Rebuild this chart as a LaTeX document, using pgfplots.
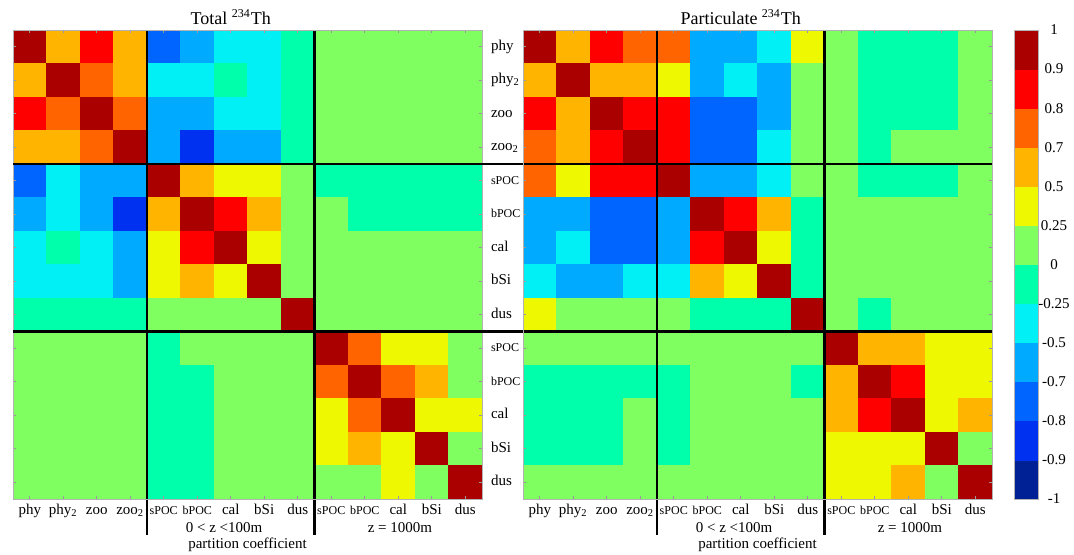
\documentclass[border=0pt]{standalone}
\usepackage{pgfplots}
\pgfplotsset{compat=1.18}
\usepackage{fontspec}
\setmainfont{Liberation Serif}

% 1 px of the reference = 0.5pt
\newcommand{\sm}[1]{{\fontsize{6}{7}\selectfont #1}}
\newcommand{\lab}{\fontsize{7.5}{9}\selectfont}

\tikzset{sep/.style={line width=1.3pt, black}}

% colour classes: 0=-1..-0.9, 1=-0.9..-0.8, ..., 11=0.9..1
\pgfplotsset{
  corrmap/.style={
    colormap={corr}{rgb255=(0,32,150) rgb255=(0,48,240) rgb255=(0,100,255)
      rgb255=(0,170,255) rgb255=(0,240,245) rgb255=(0,255,170)
      rgb255=(128,255,96) rgb255=(238,248,0) rgb255=(255,180,0)
      rgb255=(255,100,0) rgb255=(255,0,0) rgb255=(170,0,0)},
    point meta min=0, point meta max=11,
  },
  corrmat/.style={
    corrmap,
    scale only axis, width=234.5pt, height=234.5pt,
    xmin=-0.5, xmax=13.5, ymin=-0.5, ymax=13.5, y dir=reverse,
    enlargelimits=false, clip=false, axis on top,
    xtick={0,...,13}, ytick={0,...,13},
    tick pos=both, tick align=inside, major tick length=1.6pt,
    tick style={gray!80, thin}, axis line style={gray!60, thin},
    xticklabels={phy, phy\textsubscript{2}, zoo, zoo\textsubscript{2}, \sm{sPOC}, \sm{bPOC}, cal, bSi, dus,
      \sm{sPOC}, \sm{bPOC}, cal, bSi, dus},
    xticklabel style={font=\lab, anchor=base, yshift=-7.5pt},
  },
}

\begin{document}
\begin{tikzpicture}
\path[use as bounding box] (0,0) rectangle (537pt,277pt);

% ---- Total 234Th ----
\begin{axis}[corrmat, at={(6.5pt,27.5pt)}, anchor=south west,
  yticklabel pos=right,
  yticklabels={phy, phy\textsubscript{2}, zoo, zoo\textsubscript{2}, \sm{sPOC}, \sm{bPOC}, cal, bSi, dus,
    \sm{sPOC}, \sm{bPOC}, cal, bSi, dus},
  yticklabel style={font=\lab, anchor=west, text height=5.5pt, text depth=2pt, xshift=1pt},
]
\addplot[matrix plot*, mesh/cols=14, point meta=explicit] coordinates {
(0,0)[11] (1,0)[8] (2,0)[10] (3,0)[8] (4,0)[2] (5,0)[3] (6,0)[4] (7,0)[4] (8,0)[5] (9,0)[6] (10,0)[6] (11,0)[6] (12,0)[6] (13,0)[6]
(0,1)[8] (1,1)[11] (2,1)[9] (3,1)[8] (4,1)[4] (5,1)[4] (6,1)[5] (7,1)[4] (8,1)[5] (9,1)[6] (10,1)[6] (11,1)[6] (12,1)[6] (13,1)[6]
(0,2)[10] (1,2)[9] (2,2)[11] (3,2)[9] (4,2)[3] (5,2)[3] (6,2)[4] (7,2)[4] (8,2)[5] (9,2)[6] (10,2)[6] (11,2)[6] (12,2)[6] (13,2)[6]
(0,3)[8] (1,3)[8] (2,3)[9] (3,3)[11] (4,3)[3] (5,3)[1] (6,3)[3] (7,3)[3] (8,3)[5] (9,3)[6] (10,3)[6] (11,3)[6] (12,3)[6] (13,3)[6]
(0,4)[2] (1,4)[4] (2,4)[3] (3,4)[3] (4,4)[11] (5,4)[8] (6,4)[7] (7,4)[7] (8,4)[6] (9,4)[5] (10,4)[5] (11,4)[5] (12,4)[5] (13,4)[5]
(0,5)[3] (1,5)[4] (2,5)[3] (3,5)[1] (4,5)[8] (5,5)[11] (6,5)[10] (7,5)[8] (8,5)[6] (9,5)[6] (10,5)[5] (11,5)[5] (12,5)[5] (13,5)[5]
(0,6)[4] (1,6)[5] (2,6)[4] (3,6)[3] (4,6)[7] (5,6)[10] (6,6)[11] (7,6)[7] (8,6)[6] (9,6)[6] (10,6)[6] (11,6)[6] (12,6)[6] (13,6)[6]
(0,7)[4] (1,7)[4] (2,7)[4] (3,7)[3] (4,7)[7] (5,7)[8] (6,7)[7] (7,7)[11] (8,7)[6] (9,7)[6] (10,7)[6] (11,7)[6] (12,7)[6] (13,7)[6]
(0,8)[5] (1,8)[5] (2,8)[5] (3,8)[5] (4,8)[6] (5,8)[6] (6,8)[6] (7,8)[6] (8,8)[11] (9,8)[6] (10,8)[6] (11,8)[6] (12,8)[6] (13,8)[6]
(0,9)[6] (1,9)[6] (2,9)[6] (3,9)[6] (4,9)[5] (5,9)[6] (6,9)[6] (7,9)[6] (8,9)[6] (9,9)[11] (10,9)[9] (11,9)[7] (12,9)[7] (13,9)[6]
(0,10)[6] (1,10)[6] (2,10)[6] (3,10)[6] (4,10)[5] (5,10)[5] (6,10)[6] (7,10)[6] (8,10)[6] (9,10)[9] (10,10)[11] (11,10)[9] (12,10)[8] (13,10)[6]
(0,11)[6] (1,11)[6] (2,11)[6] (3,11)[6] (4,11)[5] (5,11)[5] (6,11)[6] (7,11)[6] (8,11)[6] (9,11)[7] (10,11)[9] (11,11)[11] (12,11)[7] (13,11)[7]
(0,12)[6] (1,12)[6] (2,12)[6] (3,12)[6] (4,12)[5] (5,12)[5] (6,12)[6] (7,12)[6] (8,12)[6] (9,12)[7] (10,12)[8] (11,12)[7] (12,12)[11] (13,12)[6]
(0,13)[6] (1,13)[6] (2,13)[6] (3,13)[6] (4,13)[5] (5,13)[5] (6,13)[6] (7,13)[6] (8,13)[6] (9,13)[6] (10,13)[6] (11,13)[7] (12,13)[6] (13,13)[11]
};
\draw[sep] (axis cs:3.5,-0.5) -- (axis cs:3.5,14.57);
\draw[sep] (axis cs:8.5,-0.5) -- (axis cs:8.5,14.57);
\node[font=\fontsize{9}{10}\selectfont, anchor=base] at (axis cs:6,-0.65) {Total \textsuperscript{234}Th};
\node[font=\lab, anchor=base] at (axis cs:5.8,14.49) {0 < z <100m};
\node[font=\lab, anchor=base] at (axis cs:6.5,14.99) {partition coefficient};
\node[font=\lab, anchor=base] at (axis cs:11.05,14.49) {z = 1000m};
\end{axis}

% ---- Particulate 234Th ----
\begin{axis}[corrmat, at={(261.5pt,27.5pt)}, anchor=south west,
  yticklabels={},
]
\addplot[matrix plot*, mesh/cols=14, point meta=explicit] coordinates {
(0,0)[11] (1,0)[8] (2,0)[10] (3,0)[9] (4,0)[9] (5,0)[3] (6,0)[3] (7,0)[4] (8,0)[7] (9,0)[6] (10,0)[5] (11,0)[5] (12,0)[5] (13,0)[6]
(0,1)[8] (1,1)[11] (2,1)[8] (3,1)[8] (4,1)[7] (5,1)[3] (6,1)[4] (7,1)[3] (8,1)[6] (9,1)[6] (10,1)[5] (11,1)[5] (12,1)[5] (13,1)[6]
(0,2)[10] (1,2)[8] (2,2)[11] (3,2)[10] (4,2)[10] (5,2)[2] (6,2)[2] (7,2)[3] (8,2)[6] (9,2)[6] (10,2)[5] (11,2)[5] (12,2)[5] (13,2)[6]
(0,3)[9] (1,3)[8] (2,3)[10] (3,3)[11] (4,3)[10] (5,3)[2] (6,3)[2] (7,3)[4] (8,3)[6] (9,3)[6] (10,3)[5] (11,3)[6] (12,3)[6] (13,3)[6]
(0,4)[9] (1,4)[7] (2,4)[10] (3,4)[10] (4,4)[11] (5,4)[3] (6,4)[3] (7,4)[4] (8,4)[6] (9,4)[6] (10,4)[5] (11,4)[5] (12,4)[5] (13,4)[6]
(0,5)[3] (1,5)[3] (2,5)[2] (3,5)[2] (4,5)[3] (5,5)[11] (6,5)[10] (7,5)[8] (8,5)[5] (9,5)[6] (10,5)[6] (11,5)[6] (12,5)[6] (13,5)[6]
(0,6)[3] (1,6)[4] (2,6)[2] (3,6)[2] (4,6)[3] (5,6)[10] (6,6)[11] (7,6)[7] (8,6)[5] (9,6)[6] (10,6)[6] (11,6)[6] (12,6)[6] (13,6)[6]
(0,7)[4] (1,7)[3] (2,7)[3] (3,7)[4] (4,7)[4] (5,7)[8] (6,7)[7] (7,7)[11] (8,7)[5] (9,7)[6] (10,7)[6] (11,7)[6] (12,7)[6] (13,7)[6]
(0,8)[7] (1,8)[6] (2,8)[6] (3,8)[6] (4,8)[6] (5,8)[5] (6,8)[5] (7,8)[5] (8,8)[11] (9,8)[6] (10,8)[5] (11,8)[6] (12,8)[6] (13,8)[6]
(0,9)[6] (1,9)[6] (2,9)[6] (3,9)[6] (4,9)[6] (5,9)[6] (6,9)[6] (7,9)[6] (8,9)[6] (9,9)[11] (10,9)[8] (11,9)[8] (12,9)[7] (13,9)[7]
(0,10)[5] (1,10)[5] (2,10)[5] (3,10)[5] (4,10)[5] (5,10)[6] (6,10)[6] (7,10)[6] (8,10)[5] (9,10)[8] (10,10)[11] (11,10)[10] (12,10)[7] (13,10)[7]
(0,11)[5] (1,11)[5] (2,11)[5] (3,11)[6] (4,11)[5] (5,11)[6] (6,11)[6] (7,11)[6] (8,11)[6] (9,11)[8] (10,11)[10] (11,11)[11] (12,11)[7] (13,11)[8]
(0,12)[5] (1,12)[5] (2,12)[5] (3,12)[6] (4,12)[5] (5,12)[6] (6,12)[6] (7,12)[6] (8,12)[6] (9,12)[7] (10,12)[7] (11,12)[7] (12,12)[11] (13,12)[6]
(0,13)[6] (1,13)[6] (2,13)[6] (3,13)[6] (4,13)[6] (5,13)[6] (6,13)[6] (7,13)[6] (8,13)[6] (9,13)[7] (10,13)[7] (11,13)[8] (12,13)[6] (13,13)[11]
};
\draw[sep] (axis cs:3.5,-0.5) -- (axis cs:3.5,14.57);
\draw[sep] (axis cs:8.5,-0.5) -- (axis cs:8.5,14.57);
\draw[sep] (axis cs:-15.72,3.5) -- (axis cs:13.5,3.5);
\draw[sep] (axis cs:-15.72,8.5) -- (axis cs:13.5,8.5);
\node[font=\fontsize{9}{10}\selectfont, anchor=base] at (axis cs:6,-0.65) {Particulate \textsuperscript{234}Th};
\node[font=\lab, anchor=base] at (axis cs:5.8,14.49) {0 < z <100m};
\node[font=\lab, anchor=base] at (axis cs:6.5,14.99) {partition coefficient};
\node[font=\lab, anchor=base] at (axis cs:11.05,14.49) {z = 1000m};
\end{axis}

% ---- colour bar ----
\begin{axis}[corrmap, at={(507pt,27.5pt)}, anchor=south west,
  scale only axis, width=12pt, height=234.5pt,
  xmin=-0.5, xmax=1.5, ymin=-0.5, ymax=11.5, enlargelimits=false,
  axis on top, xtick=\empty,
  ytick={-0.5,0.5,...,11.5},
  yticklabels={-1,-0.9,-0.8,-0.7,-0.5,-0.25,0,0.25,0.5,0.7,0.8,0.9,1},
  ytick pos=right, yticklabel pos=right, major tick length=0pt,
  yticklabel style={font=\lab, anchor=center, xshift=8pt},
  axis line style={gray!60, thin},
]
\addplot[matrix plot*, mesh/cols=2, point meta=explicit] coordinates {
(0,0)[0] (1,0)[0]
(0,1)[1] (1,1)[1]
(0,2)[2] (1,2)[2]
(0,3)[3] (1,3)[3]
(0,4)[4] (1,4)[4]
(0,5)[5] (1,5)[5]
(0,6)[6] (1,6)[6]
(0,7)[7] (1,7)[7]
(0,8)[8] (1,8)[8]
(0,9)[9] (1,9)[9]
(0,10)[10] (1,10)[10]
(0,11)[11] (1,11)[11]
};
\end{axis}
\end{tikzpicture}
\end{document}
